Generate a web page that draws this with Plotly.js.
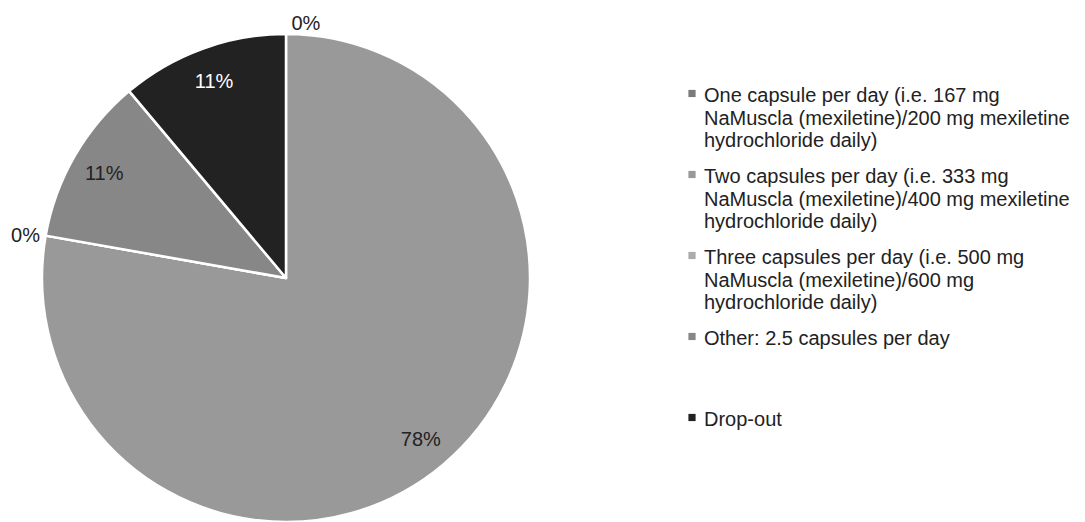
<!DOCTYPE html>
<html>
<head>
<meta charset="utf-8">
<script src="https://cdn.plot.ly/plotly-3.0.1.min.js"></script>
<style>html,body{margin:0;padding:0;background:#fff;}#chart{width:1085px;height:522px;}</style>
</head>
<body>
<div id="chart"></div>
<script>
var categories = [
  "One capsule per day (i.e. 167 mg<br>NaMuscla (mexiletine)/200 mg mexiletine<br>hydrochloride daily)",
  "Two capsules per day (i.e. 333 mg<br>NaMuscla (mexiletine)/400 mg mexiletine<br>hydrochloride daily)",
  "Three capsules per day (i.e. 500 mg<br>NaMuscla (mexiletine)/600 mg<br>hydrochloride daily)",
  "Other: 2.5 capsules per day<br> <br> ",
  "Drop-out<br> <br> "
];
var values = [0, 7, 0, 1, 1];
var colors = ["#7a7a7a", "#999999", "#ababab", "#878787", "#222222"];
var textColors = ["#222222", "#222222", "#222222", "#222222", "#ffffff"];
var textPositions = ["outside", "inside", "outside", "inside", "inside"];

var FONT = "Liberation Sans, Arial, sans-serif";
var dom = {x: [42/1085, 530/1085], y: [0, 1]};

var data = [{
  type: "pie",
  labels: categories,
  values: values,
  sort: false,
  direction: "clockwise",
  rotation: 0,
  textinfo: "none",
  marker: {colors: colors, line: {color: "#ffffff", width: 2.5}},
  domain: dom,
  hoverinfo: "none"
}, {
  type: "pie",
  labels: categories,
  values: values,
  sort: false,
  direction: "clockwise",
  rotation: 0,
  hole: 0.72,
  showlegend: false,
  texttemplate: "%{percent:.0%}",
  textposition: textPositions,
  insidetextorientation: "horizontal",
  textfont: {family: FONT, size: 20, color: textColors},
  marker: {colors: ["rgba(0,0,0,0)","rgba(0,0,0,0)","rgba(0,0,0,0)","rgba(0,0,0,0)","rgba(0,0,0,0)"], line: {width: 0}},
  domain: dom,
  hoverinfo: "none"
}];

var layout = {
  width: 1085,
  height: 522,
  margin: {l: 0, r: 0, t: 34, b: 0},
  paper_bgcolor: "#ffffff",
  showlegend: true,
  legend: {
    x: 664/1085, y: 0.916, xanchor: "left", yanchor: "top",
    valign: "top",
    font: {family: FONT, size: 20, color: "#222222"},
    tracegroupgap: 0,
    itemwidth: 30
  }
};

Plotly.newPlot("chart", data, layout, {displayModeBar: false, staticPlot: true}).then(function () {
  var gd = document.getElementById("chart");
  gd.querySelectorAll(".legend .legendtext tspan.line").forEach(function (t) {
    var dy = t.getAttribute("dy");
    if (dy && /em$/.test(dy)) {
      var v = parseFloat(dy);
      t.setAttribute("dy", (v * 1.13 / 1.3) + "em");
    }
  });
  gd.querySelectorAll(".legend .legendpoints").forEach(function (g) {
    g.setAttribute("transform", "translate(8,-1)");
    g.querySelectorAll("path").forEach(function (p) {
      var tr = p.getAttribute("transform") || "";
      p.setAttribute("transform", tr + " scale(0.6)");
      p.style.strokeWidth = "0";
    });
  });
});
</script>
</body>
</html>
